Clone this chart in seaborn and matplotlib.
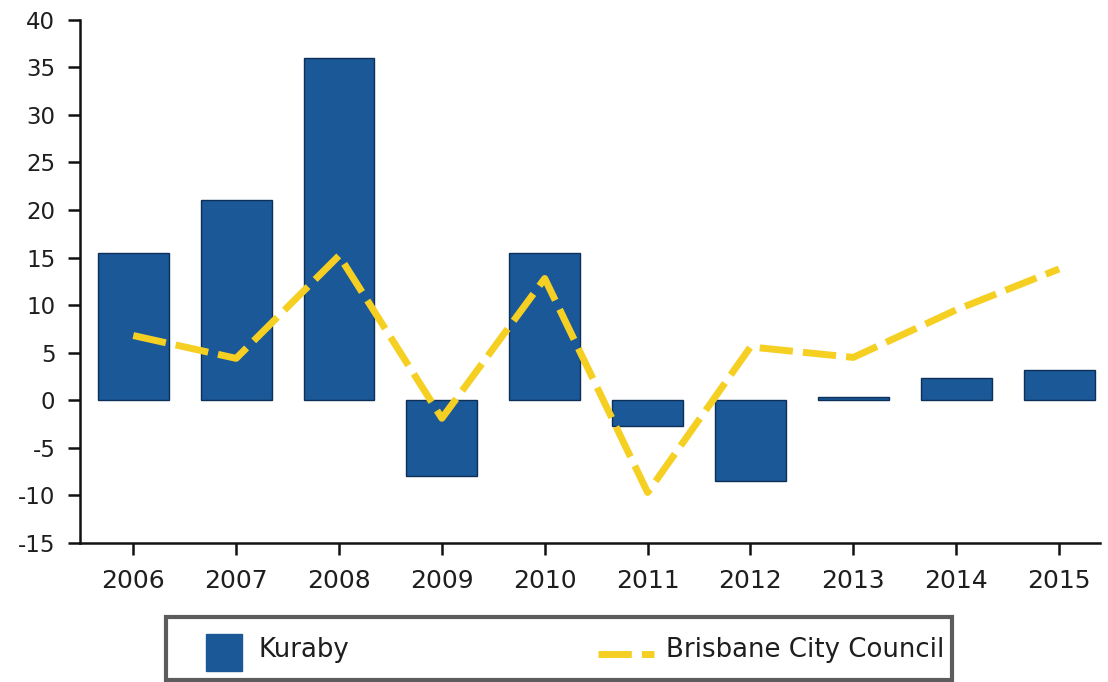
import matplotlib
matplotlib.use("Agg")
import numpy as np
import matplotlib.pyplot as plt
import matplotlib.patches as mpatches
from matplotlib.lines import Line2D
from matplotlib.legend_handler import HandlerPatch, HandlerLine2D
import seaborn as sns

# values
years = ["2006", "2007", "2008", "2009", "2010", "2011", "2012", "2013", "2014", "2015"]
kuraby = [15.5, 21.0, 36.0, -8.0, 15.5, -2.7, -8.5, 0.3, 2.3, 3.2]
brisbane = [6.8, 4.4, 15.2, -1.9, 12.8, -9.7, 5.6, 4.5, 9.5, 13.8]
yticks = [-15, -10, -5, 0, 5, 10, 15, 20, 25, 30, 35, 40]

bar_col = "#1a5898"
line_col = "#f5d023"
dash = [4.8, 1.45]

sns.set_style("white")
plt.rcParams["font.family"] = ["DejaVu Sans"]

fig = plt.figure(figsize=(11.08, 6.82), dpi=100)
ax = fig.add_axes([0.072, 0.204, 0.921, 0.767])

sns.barplot(x=years, y=kuraby, color=bar_col, width=0.69, saturation=1,
            edgecolor="#0e2f58", linewidth=1, ax=ax)
sns.pointplot(x=years, y=brisbane, color=line_col, marker="", linestyle="--", ax=ax)
# thick yellow line, long dashes
for ln in ax.lines:
    ln.set_linewidth(5)
    ln.set_dashes(dash)

ax.set_ylim(-15, 40)
ax.set_xlim(-0.52, 9.4)
ax.set_yticks(yticks)
ax.set_yticklabels([str(v) for v in yticks])
ax.set_xlabel("")
ax.set_ylabel("")

for s in ["top", "right"]:
    ax.spines[s].set_visible(False)
for s in ["left", "bottom"]:
    ax.spines[s].set_color("#111111")
    ax.spines[s].set_linewidth(1.8)

ax.tick_params(axis="both", direction="out", length=8.6, width=1.8, color="#111111",
               labelcolor="#1e1e1e", left=True, bottom=True)
ax.tick_params(axis="x", pad=10, labelsize=18)
ax.tick_params(axis="y", pad=9, labelsize=16.5)


def square(legend, orig_handle, xdescent, ydescent, width, height, fontsize):
    return mpatches.Rectangle((-xdescent + width * 0.44, -ydescent + height * 0.02),
                              width * 0.49, height * 0.8, color=bar_col)


class LowLine(HandlerLine2D):
    # legend line sits a bit lower, level with the text
    def create_artists(self, legend, orig_handle, xdescent, ydescent, width, height, fontsize, trans):
        arts = super().create_artists(legend, orig_handle, xdescent, ydescent,
                                      width, height, fontsize, trans)
        for a in arts:
            a.set_ydata(np.asarray(a.get_ydata()) - 0.28 * height)
        return arts


handles = [mpatches.Patch(color=bar_col, label="Kuraby"),
           Line2D([0], [0], color=line_col, lw=5, dashes=dash, label="Brisbane City Council")]
leg = fig.legend(handles=handles, loc="lower left", bbox_to_anchor=(0.1498, 0.003, 0.7094, 0.09),
                 mode="expand", ncol=2, fontsize=18.7, frameon=True, fancybox=False,
                 borderaxespad=0, handlelength=2.82, handleheight=2.4,
                 handletextpad=0.45, borderpad=0.3,
                 handler_map={mpatches.Patch: HandlerPatch(patch_func=square),
                              Line2D: LowLine(xpad=0.66)})
fr = leg.get_frame()
fr.set_edgecolor("#333333")
fr.set_linewidth(3)
for t in leg.get_texts():
    t.set_color("#1e1e1e")

fig.savefig("out.png", dpi=100)
